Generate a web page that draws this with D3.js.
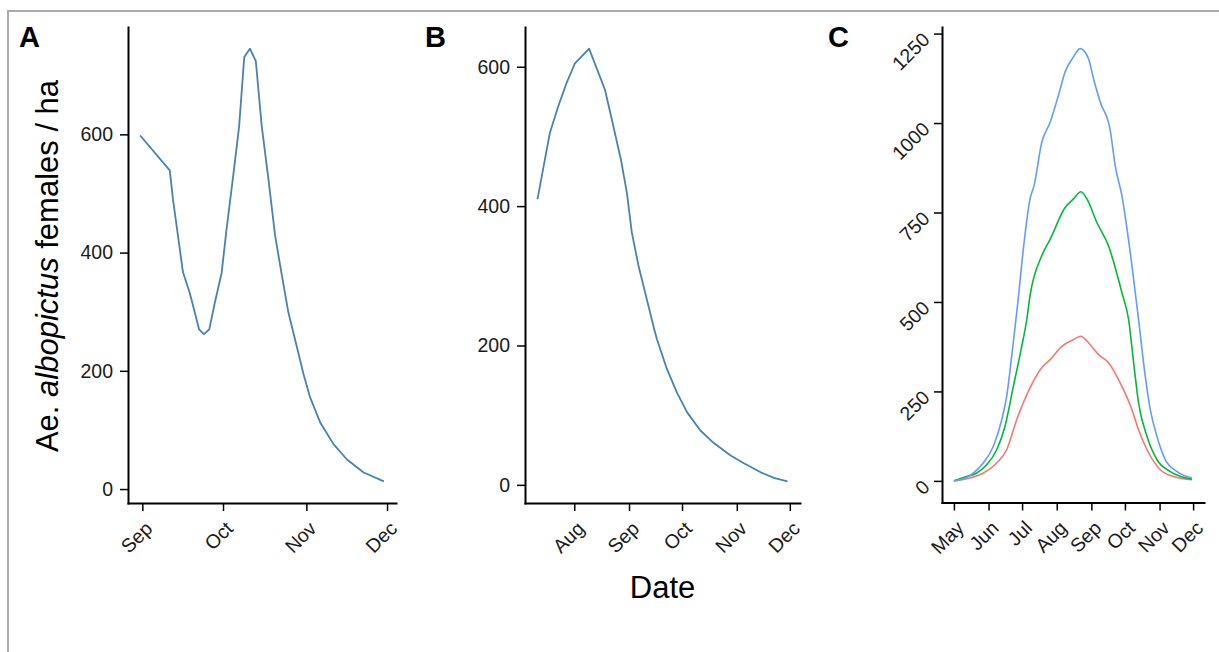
<!DOCTYPE html>
<html><head><meta charset="utf-8">
<script src="https://cdn.jsdelivr.net/npm/d3@7"></script>
<style>
body{margin:0;background:#fff;}
svg{display:block;font-family:"Liberation Sans",Arial,Helvetica,sans-serif;}
</style>
</head><body>
<svg id="chart" width="1219" height="652"></svg>
<script>
// ---------- DATA ----------
// Panel A: days after Sep 1, females / ha
const aStart = "2017-09-01";
const aDays   = [-0.8,10.2,11.4,15.1,17.6,19.5,21.1,22.9,24.9,27,29.5,31.3,33.8,36,37.9,40,42.2,44.4,46.9,49.4,51.9,54.3,57.5,59.9,62.4,66.2,71.1,76.1,82.3,89.8];
const aValues = [598,539,490,367,332,299,270,262,270,316,366,439,530,614,731,745,724,614,524,428,361,299,240,195,155,112,76,50,28,13];
const aTickDates  = ["2017-09-01","2017-10-01","2017-11-01","2017-12-01"];
const aTickLabels = ["Sep","Oct","Nov","Dec"];
const aYTicks = [0,200,400,600];

// Panel B: days after Aug 1
const bStart = "2017-08-01";
const bDays   = [-20.8,-13.8,-9.1,-4.3,0.4,8.4,17.4,21.3,26.4,29.8,32.6,36.4,41.1,45.3,46.8,52.5,58.2,63.9,71.4,79,88.5,96,105.5,113,120.7];
const bValues = [410,505,543,577,605,626,567,524,467,419,362,314,266,223,209,166,132,104,78,60,42,31,18,10,5];
const bTickDates  = ["2017-08-01","2017-09-01","2017-10-01","2017-11-01","2017-12-01"];
const bTickLabels = ["Aug","Sep","Oct","Nov","Dec"];
const bYTicks = [0,200,400,600];

// Panel C: days after May 1, three scenarios
const cStart = "2017-05-01";
const cHighDays   = [0,8.3,17.3,26.3,35.2,42.8,47.2,51.7,56.9,62.1,68.1,71.7,78.6,86.1,93.5,99.5,107,113,120.4,124.9,130.9,139.9,144.3,150.3,159.3,165.2,171.2,175.7,181.7,189.2,199.7,213.1];
const cHighValues = [0,5,22,50,96,171,236,348,490,647,788,825,946,1002,1077,1143,1185,1208,1180,1124,1059,979,881,797,601,451,292,199,124,59,26,8];
const cMidDays    = [0,11.4,20.4,29.3,38.3,45.7,53.2,60.7,65.2,68.1,78.6,86.1,99.5,107,113.6,119,127.9,138.3,150.3,156.3,160.8,165.2,172.8,181.7,193.6,213.1];
const cMidValues  = [0,12,22,45,87,152,264,376,451,517,629,675,764,788,808,788,722,657,526,451,330,218,124,59,26,5];
const cLowDays    = [0,14.3,26.3,38.3,47.2,56.2,68.1,78.6,86.1,96.6,107,113.6,120.4,129.4,138.3,150.3,159.3,165.2,172.8,184.7,196.6,213.1];
const cLowValues  = [0,8,22,50,87,171,260,316,339,376,395,404,386,353,330,264,199,143,87,31,12,3];
const cTickDates  = ["2017-05-01","2017-06-01","2017-07-01","2017-08-01","2017-09-01","2017-10-01","2017-11-01","2017-12-01"];
const cTickLabels = ["May","Jun","Jul","Aug","Sep","Oct","Nov","Dec"];
const cYTicks = [0,250,500,750,1000,1250];

// ---------- DRAW ----------
const svg = d3.select("#chart");
const parse = d3.utcParse("%Y-%m-%d");
const TICK_FONT = "19.5px";

svg.append("path").attr("d","M8,652 V11 H1219")
  .attr("fill","none").attr("stroke","#ababab").attr("stroke-width",2);

function drawPanel(cfg){
  const s = parse(cfg.start);
  const toDate = d => new Date(s.getTime() + d*864e5);
  const allD = cfg.series.flatMap(se => se.days);
  const allV = cfg.series.flatMap(se => se.values);
  const dmin = d3.min(allD), dmax = d3.max(allD), pd = (dmax-dmin)*0.05;
  const vmin = d3.min(allV), vmax = d3.max(allV), pv = (vmax-vmin)*0.05;
  const x = d3.scaleUtc().domain([toDate(dmin-pd), toDate(dmax+pd)]).range([cfg.x0, cfg.x1]);
  const y = d3.scaleLinear().domain([vmin-pv, vmax+pv]).range([cfg.y1, cfg.y0]);
  const g = svg.append("g");

  const line = d3.line().curve(cfg.curve).x(p => x(toDate(p[0]))).y(p => y(p[1]));
  cfg.series.forEach(se => {
    g.append("path").datum(se.days.map((d,i)=>[d, se.values[i]]))
      .attr("d", line).attr("fill","none").attr("stroke", se.color)
      .attr("stroke-width", se.width).attr("stroke-linejoin","round");
  });

  const ya = g.append("g").attr("transform",`translate(${cfg.x0},0)`)
    .call(d3.axisLeft(y).tickValues(cfg.yTicks).tickFormat(d3.format("d")).tickSize(8).tickSizeOuter(0).tickPadding(7));
  const xa = g.append("g").attr("transform",`translate(0,${cfg.y1})`)
    .call(d3.axisBottom(x).tickValues(cfg.tickDates.map(parse)).tickFormat((d,i)=>cfg.tickLabels[i]).tickSize(8).tickSizeOuter(0));

  [ya, xa].forEach(a => {
    a.attr("font-size", null).attr("font-family", null);
    a.select(".domain").attr("stroke","#000").attr("stroke-width",2).attr("stroke-linecap","square");
    a.selectAll(".tick line").attr("stroke","#000").attr("stroke-width",1.5);
    a.selectAll(".tick text").attr("fill","#1a1a1a").style("font-size",TICK_FONT);
  });
  xa.selectAll(".tick text").attr("y",0).attr("dy","0.71em").attr("text-anchor","end")
    .attr("transform","translate(1,17) rotate(-45)");
  if (cfg.rotateY){
    ya.selectAll(".tick text").attr("x",0).attr("dy","0.35em").attr("text-anchor","end")
      .attr("transform","translate(-16,2) rotate(-45)");
  }

  g.append("text").attr("x",cfg.lx).attr("y",47).text(cfg.letter)
    .style("font-size","29px").style("font-weight","bold").attr("fill","#000");
}

drawPanel({x0:128,x1:396,y0:27,y1:503,start:aStart,curve:d3.curveLinear,
  series:[{days:aDays,values:aValues,color:"#4682B4",width:1.8}],
  tickDates:aTickDates,tickLabels:aTickLabels,yTicks:aYTicks,letter:"A",lx:19});
drawPanel({x0:525,x1:800,y0:27,y1:503,start:bStart,curve:d3.curveLinear,
  series:[{days:bDays,values:bValues,color:"#4682B4",width:1.8}],
  tickDates:bTickDates,tickLabels:bTickLabels,yTicks:bYTicks,letter:"B",lx:425});
drawPanel({x0:942,x1:1204,y0:27,y1:502.5,start:cStart,curve:d3.curveMonotoneX,
  series:[{days:cLowDays,values:cLowValues,color:"#F8766D",width:1.6},
          {days:cMidDays,values:cMidValues,color:"#00BA38",width:1.6},
          {days:cHighDays,values:cHighValues,color:"#619CFF",width:1.6}],
  tickDates:cTickDates,tickLabels:cTickLabels,yTicks:cYTicks,letter:"C",lx:828,rotateY:true});

const yt = svg.append("text").attr("transform","translate(58,266) rotate(-90)")
  .attr("text-anchor","middle").style("font-size","31px").attr("fill","#000");
yt.append("tspan").text("Ae. ");
yt.append("tspan").style("font-style","italic").text("albopictus");
yt.append("tspan").text(" females / ha");

svg.append("text").attr("x",662.5).attr("y",598).attr("text-anchor","middle")
  .style("font-size","31px").attr("fill","#000").text("Date");
</script>
</body></html>
